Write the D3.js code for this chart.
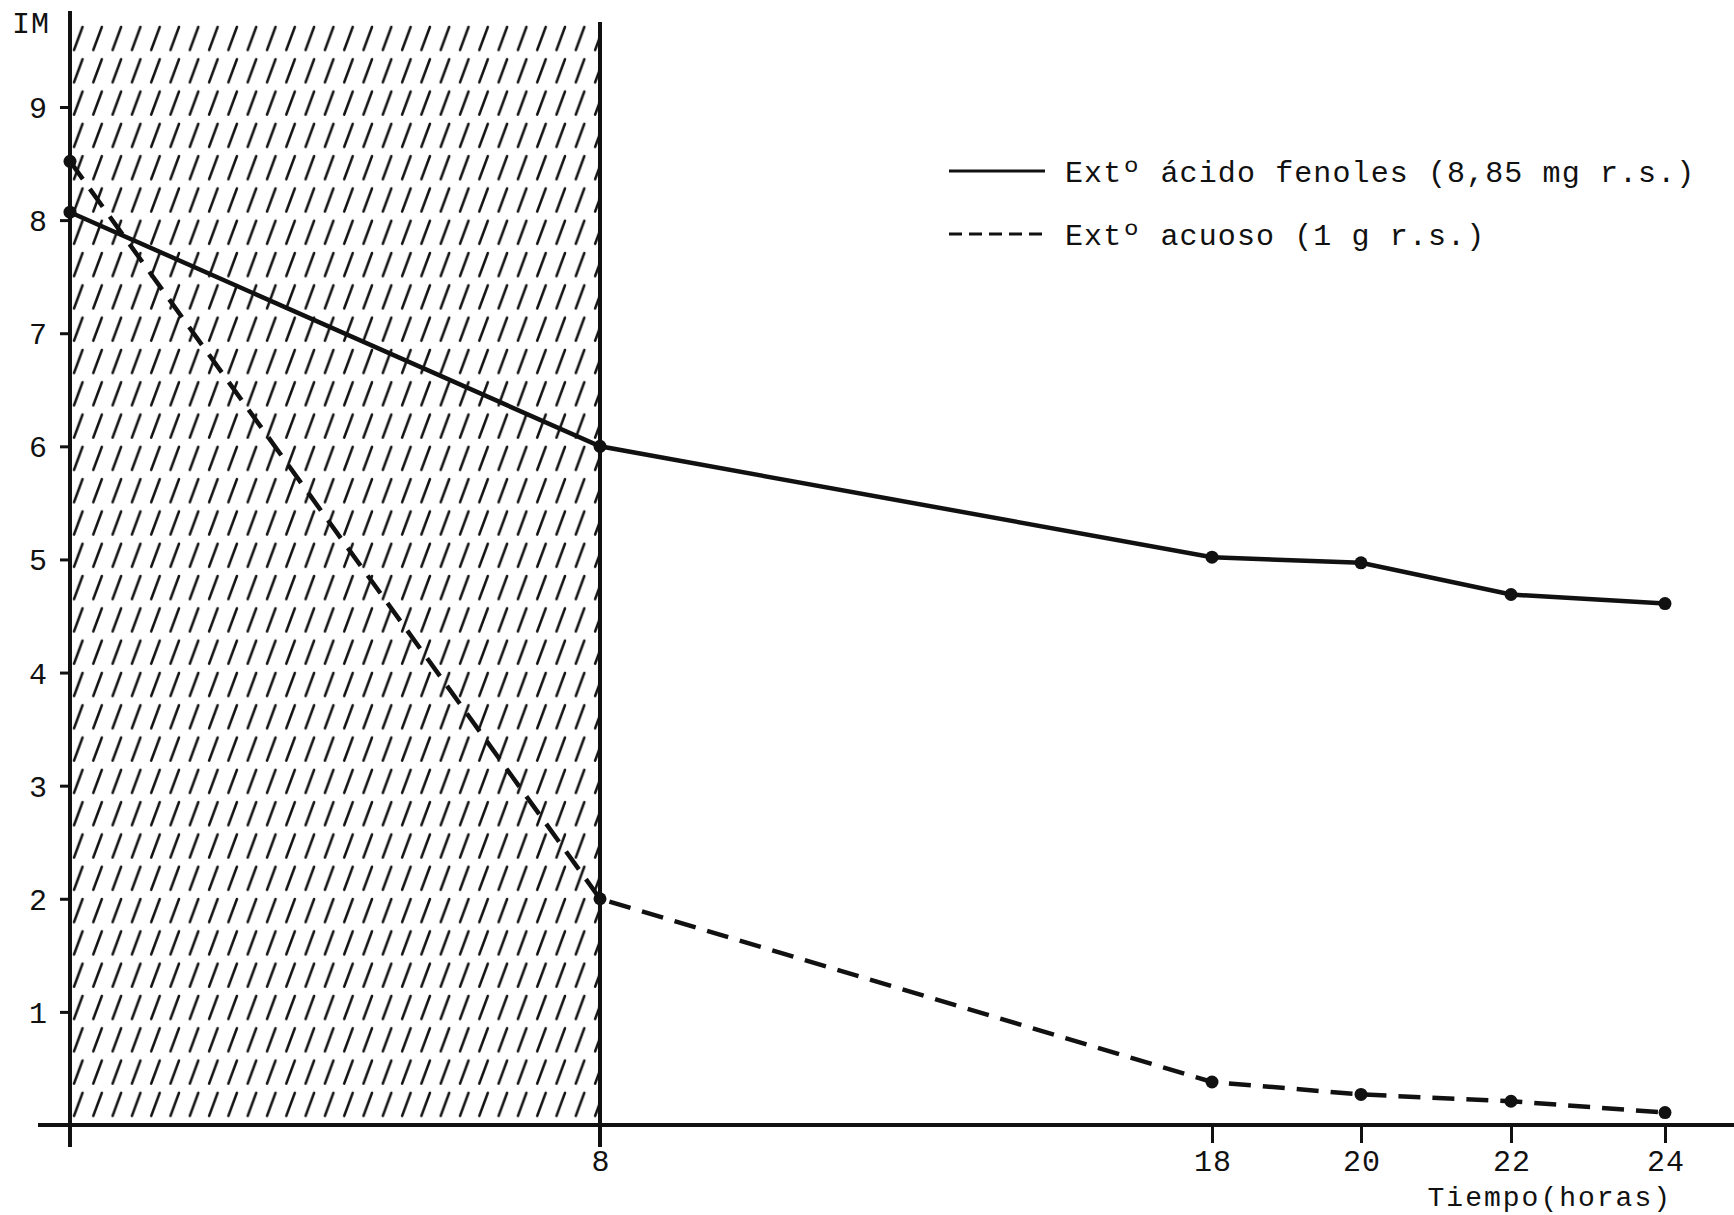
<!DOCTYPE html>
<html>
<head>
<meta charset="utf-8">
<script src="https://cdn.jsdelivr.net/npm/d3@7"></script>
<style>
  body { margin: 0; background: #ffffff; }
  svg text { font-family: 'Liberation Mono', 'DejaVu Sans Mono', monospace; fill: #111111; }
</style>
</head>
<body>
<div id="chart"></div>
<script>
// horas de muestreo y valores de IM
const hours = [0, 8, 18, 20, 22, 24];
const acidoFenoles = [8.07, 6.0, 5.02, 4.97, 4.69, 4.61];
const acuoso = [8.52, 2.0, 0.38, 0.27, 0.21, 0.11];
const xTicks = [8, 18, 20, 22, 24];
const yTicks = [1, 2, 3, 4, 5, 6, 7, 8, 9];
const lightPeriod = [0, 8];
const legendLabels = ['Extº ácido fenoles (8,85 mg r.s.)', 'Extº acuoso (1 g r.s.)'];

const fmt = {
    width: 1734,
    height: 1215,
    ink: '#111111',
    fontSize: 30,
    letterSpacing: 1.1
};

// the hand-drawn time axis is not evenly spaced, so a polylinear scale follows it
let x = d3.scaleLinear()
    .domain([0, 8, 18, 20, 22, 24])
    .range([70, 600, 1212, 1361, 1511, 1665]);

let y = d3.scaleLinear()
    .domain([0, 9])
    .range([1125, 107]);

let svg = d3.select('#chart').append('svg')
    .attr('version', 1.1)
    .attr('xmlns', 'http://www.w3.org/2000/svg')
    .attr('width', fmt.width)
    .attr('height', fmt.height);

svg.append('rect')
    .attr('width', fmt.width)
    .attr('height', fmt.height)
    .attr('fill', '#ffffff');

// hatching for the first 8 hours
let pattern = svg.append('defs').append('pattern')
    .attr('id', 'hatch')
    .attr('patternUnits', 'userSpaceOnUse')
    .attr('x', x(lightPeriod[0]))
    .attr('y', 22)
    .attr('width', 19.3)
    .attr('height', 32.3);

pattern.append('line')
    .attr('x1', 4).attr('y1', 28)
    .attr('x2', 12.5).attr('y2', 5)
    .attr('stroke', fmt.ink)
    .attr('stroke-width', 2.6)
    .attr('stroke-linecap', 'round');

svg.append('rect')
    .attr('x', x(lightPeriod[0]))
    .attr('y', 22)
    .attr('width', x(lightPeriod[1]) - x(lightPeriod[0]))
    .attr('height', y(0) - 22)
    .attr('fill', 'url(#hatch)');

// axes
let bottom = svg.append('g')
    .attr('transform', 'translate(0,' + y(0) + ')')
    .call(d3.axisBottom(x).tickValues(xTicks).tickSize(18).tickFormat(d3.format('d')));

bottom.select('.domain').remove();
bottom.selectAll('.tick line')
    .attr('stroke', fmt.ink)
    .attr('stroke-width', 3);
bottom.selectAll('.tick text')
    .attr('y', 35)
    .attr('dy', '0.35em')
    .attr('dx', fmt.letterSpacing / 2)
    .style('font-size', fmt.fontSize + 'px')
    .style('letter-spacing', fmt.letterSpacing + 'px')
    .attr('fill', fmt.ink);

let left = svg.append('g')
    .attr('transform', 'translate(' + x(0) + ',0)')
    .call(d3.axisLeft(y).tickValues(yTicks).tickSize(10).tickFormat(d3.format('d')));

left.select('.domain').remove();
left.selectAll('.tick line')
    .attr('stroke', fmt.ink)
    .attr('stroke-width', 3);
left.selectAll('.tick text')
    .attr('x', -22)
    .attr('dy', '0.35em')
    .style('font-size', fmt.fontSize + 'px')
    .style('letter-spacing', fmt.letterSpacing + 'px')
    .attr('fill', fmt.ink);

svg.append('line')
    .attr('x1', 38).attr('x2', fmt.width)
    .attr('y1', y(0)).attr('y2', y(0))
    .attr('stroke', fmt.ink)
    .attr('stroke-width', 4);

svg.append('line')
    .attr('x1', x(0)).attr('x2', x(0))
    .attr('y1', 11).attr('y2', 1147)
    .attr('stroke', fmt.ink)
    .attr('stroke-width', 4);

svg.append('line')
    .attr('x1', x(lightPeriod[1])).attr('x2', x(lightPeriod[1]))
    .attr('y1', 22).attr('y2', 1147)
    .attr('stroke', fmt.ink)
    .attr('stroke-width', 4);

svg.append('text')
    .attr('x', 12)
    .attr('y', 22)
    .attr('dy', '0.35em')
    .style('font-size', fmt.fontSize + 'px')
    .style('letter-spacing', fmt.letterSpacing + 'px')
    .text('IM');

svg.append('text')
    .attr('x', 1672)
    .attr('y', 1196)
    .attr('dy', '0.35em')
    .attr('text-anchor', 'end')
    .style('font-size', '28px')
    .style('letter-spacing', '2px')
    .text('Tiempo(horas)');

// series
let series = [
    { values: acidoFenoles, dash: null },
    { values: acuoso, dash: '22,12' }
];

let line = d3.line()
    .x((d) => x(d[0]))
    .y((d) => y(d[1]));

series.forEach((s) => {
    let pts = hours.map((h, i) => [h, s.values[i]]);

    svg.append('path').datum(pts)
        .attr('fill', 'none')
        .attr('stroke', fmt.ink)
        .attr('stroke-width', 4.5)
        .attr('stroke-dasharray', s.dash)
        .attr('d', line);

    svg.selectAll(null)
        .data(pts)
        .enter().append('circle')
        .attr('cx', (d) => x(d[0]))
        .attr('cy', (d) => y(d[1]))
        .attr('r', 6.5)
        .attr('fill', fmt.ink);
});

// legend
let legend = svg.append('g')
    .attr('transform', 'translate(949,171)');

legendLabels.forEach((label, i) => {
    legend.append('line')
        .attr('x1', 0).attr('x2', 96)
        .attr('y1', i * 63).attr('y2', i * 63)
        .attr('stroke', fmt.ink)
        .attr('stroke-width', 2.8)
        .attr('stroke-dasharray', i == 1 ? '13,7' : null);

    legend.append('text')
        .attr('x', 116)
        .attr('y', i * 63)
        .attr('dy', '0.35em')
        .style('font-size', fmt.fontSize + 'px')
        .style('letter-spacing', fmt.letterSpacing + 'px')
        .text(label);
});
</script>
</body>
</html>
